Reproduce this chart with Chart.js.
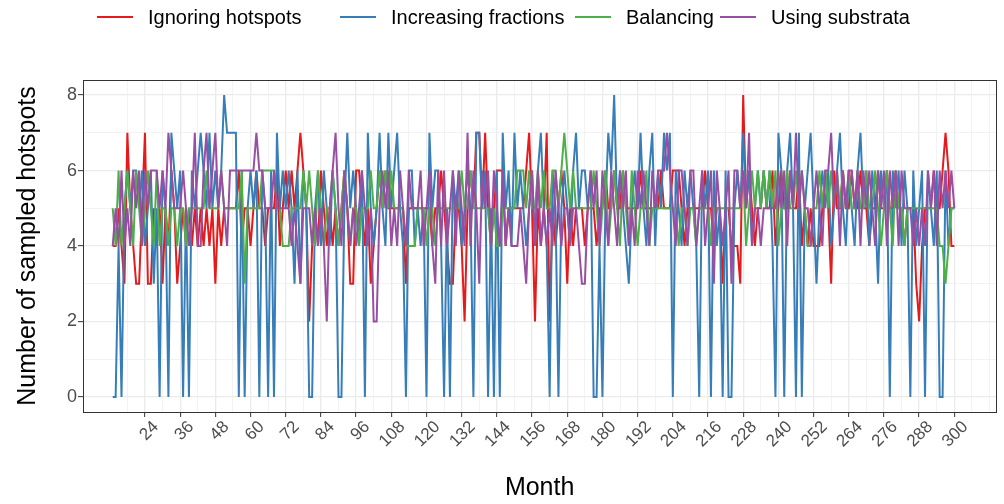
<!DOCTYPE html>
<html>
<head>
<meta charset="utf-8">
<script src="https://cdn.jsdelivr.net/npm/chart.js@4/dist/chart.umd.min.js"></script>
<style>
  html, body { margin: 0; padding: 0; background: #fff; }
  #wrap { width: 1004px; height: 504px; position: relative; }
</style>
</head>
<body>
<div id="wrap"><canvas id="chart"></canvas></div>
<script>
// months 13..300, one value per month
const firstMonth = 13;
const lastMonth = 300;
const months = [];
for (let m = firstMonth; m <= lastMonth; m++) months.push(m);

const monthTicks = [24, 36, 48, 60, 72, 84, 96, 108, 120, 132, 144, 156, 168, 180, 192, 204, 216, 228, 240, 252, 264, 276, 288, 300];
const countTicks = [0, 2, 4, 6, 8];

const seriesNames = ["Ignoring hotspots", "Increasing fractions", "Balancing", "Using substrata"];
const seriesColors = ["#E41A1C", "#377EB8", "#4DAF4A", "#984EA3"];

const ignoring = [
  4,4,5,4,3,7,5,4,3,3,5,7,
  3,3,5,4,5,3,5,4,6,5,3,4,
  5,4,5,4,5,4,5,4,5,4,5,3,
  5,4,5,5,5,5,5,6,4,5,5,4,
  5,6,5,5,4,5,5,5,6,4,5,6,
  5,6,5,6,7,6,5,2,4,5,4,6,
  5,4,5,4,5,4,5,6,5,3,3,6,
  6,5,4,5,3,4,5,6,5,6,5,5,
  5,5,5,5,3,5,5,5,5,5,5,5,
  5,4,5,5,6,5,4,3,3,5,5,4,
  2,5,6,5,7,7,5,7,5,4,5,6,
  6,6,4,5,5,5,5,5,5,6,7,5,
  2,5,4,5,7,2,5,4,5,6,5,3,
  5,4,5,5,5,4,5,5,5,4,5,5,
  6,5,5,6,5,5,6,5,5,5,5,5,
  6,5,5,5,5,5,5,6,5,5,5,6,
  6,6,5,4,5,5,5,5,5,5,6,5,
  5,4,5,5,3,5,5,4,4,4,3,8,
  5,6,5,4,5,5,6,5,5,6,4,5,
  6,5,5,6,5,5,6,4,5,4,5,4,
  4,4,5,6,5,3,6,5,5,6,5,5,
  6,5,5,6,5,5,4,5,5,6,5,5,
  6,5,5,6,5,5,4,5,5,5,3,2,
  4,5,5,5,6,5,5,6,7,6,4,4
];

const increasing = [
  0,0,4,0,5,6,5,6,6,5,6,4,
  5,6,3,5,0,6,5,0,7,6,5,6,
  0,5,0,6,5,6,7,6,5,7,5,6,
  5,6,8,7,7,7,7,0,6,0,5,6,
  5,6,0,6,5,0,6,0,7,5,6,5,
  6,5,3,6,3,6,5,0,0,5,6,4,
  6,5,4,6,5,0,0,5,7,5,6,5,
  4,6,0,7,5,4,5,7,5,4,7,5,
  6,7,5,4,0,6,6,4,5,4,5,0,
  7,5,6,6,4,0,5,0,6,5,6,4,
  5,6,5,0,7,7,5,6,0,5,0,6,
  0,7,5,6,4,7,5,6,5,4,5,6,
  4,6,7,5,4,0,6,5,0,5,6,5,
  4,6,7,5,6,6,5,6,0,0,4,0,
  5,7,6,8,5,6,5,4,3,5,6,5,
  7,5,4,6,7,4,6,5,7,6,7,0,
  6,5,4,6,5,6,5,4,0,6,5,6,
  0,6,4,5,0,6,0,0,5,6,5,7,
  5,6,4,5,6,5,6,5,6,4,0,7,
  6,0,6,7,5,0,7,0,5,6,7,5,
  3,5,6,5,6,4,5,6,7,5,4,6,
  5,4,6,7,5,6,4,6,5,3,6,5,
  6,0,6,5,6,4,6,5,0,6,4,5,
  6,0,6,5,4,6,0,0,6,4,5,5
];

const balancing = [
  5,4,6,4,5,6,5,4,6,5,4,5,
  6,5,4,6,4,5,5,4,5,5,4,5,
  5,4,5,5,5,5,5,5,6,5,5,5,
  5,6,5,5,5,5,5,5,6,3,5,5,
  5,5,5,6,6,6,6,6,5,5,4,4,
  4,5,5,5,5,6,5,6,5,4,6,5,
  4,5,5,6,5,4,5,6,5,4,5,5,
  4,5,5,5,6,5,5,6,5,6,5,6,
  5,5,5,5,4,4,4,4,5,5,5,4,
  5,5,4,5,5,5,5,5,5,5,5,6,
  5,5,6,5,5,5,5,5,5,4,5,4,
  4,5,5,5,5,5,6,6,6,5,6,5,
  5,6,5,6,5,5,6,6,5,6,7,6,
  5,6,5,5,5,5,5,5,6,5,4,5,
  6,4,5,6,5,4,6,5,4,6,5,4,
  5,5,6,4,5,5,5,5,5,5,5,5,
  5,4,5,5,4,5,5,4,5,5,5,5,
  4,5,5,5,5,5,5,5,5,5,5,6,
  4,5,6,5,6,5,6,5,6,5,6,4,
  5,5,6,5,5,6,5,6,5,4,4,5,
  5,6,5,6,5,6,5,6,5,6,5,6,
  5,5,6,5,5,6,5,5,6,5,4,5,
  6,5,4,6,5,5,4,5,5,5,5,5,
  5,5,5,5,5,5,4,4,3,4,5,5
];

const substrata = [
  4,5,4,6,4,5,4,6,5,6,4,6,
  5,6,6,6,5,6,5,7,6,5,5,5,
  6,5,4,5,7,4,4,6,7,5,6,7,
  5,6,5,4,6,6,6,6,6,6,6,6,
  6,7,6,6,5,5,5,6,5,5,5,5,
  5,4,5,4,3,5,5,5,4,5,4,5,
  4,2,5,6,7,5,4,6,5,4,5,4,
  5,6,5,4,5,2,2,5,6,5,6,4,
  5,4,6,5,4,6,5,5,5,6,4,5,
  6,4,3,6,4,6,4,5,6,4,6,5,
  4,7,4,6,5,3,6,5,6,4,6,5,
  4,6,4,5,4,4,4,5,4,3,5,6,
  4,6,4,5,4,5,4,6,5,4,5,5,
  4,5,5,4,3,3,5,6,5,6,4,6,
  5,4,6,5,4,6,5,6,4,5,4,6,
  5,6,5,4,6,5,6,6,6,7,6,5,
  4,6,6,5,4,6,6,4,5,6,4,5,
  6,3,6,5,4,5,6,3,6,6,5,6,
  5,7,4,5,5,4,5,5,5,5,5,6,
  5,6,4,6,5,7,5,6,5,5,4,5,
  6,5,4,6,6,7,5,6,4,6,5,6,
  6,5,6,4,6,5,6,5,4,6,5,6,
  4,6,5,6,4,6,5,5,5,4,5,4,
  5,4,6,5,6,4,6,5,6,5,6,5
];

const allSeries = [ignoring, increasing, balancing, substrata];

const fontFamily = '"Liberation Sans", Arial, sans-serif';

// plot panel border (theme_bw) and legend strip on top
const panelBorder = {
  id: "panelBorder",
  afterDatasetsDraw(chart) {
    const { ctx, chartArea: a } = chart;
    ctx.save();
    ctx.strokeStyle = "#333333";
    ctx.lineWidth = 1;
    ctx.strokeRect(Math.round(a.left) + 0.5, Math.round(a.top) + 0.5,
      Math.round(a.right - a.left), Math.round(a.bottom - a.top));
    ctx.restore();
  }
};

const legendStarts = [97, 340, 575, 720];

const topLegend = {
  id: "topLegend",
  afterDraw(chart) {
    const ctx = chart.ctx;
    ctx.save();
    ctx.font = "20px " + fontFamily;
    ctx.textBaseline = "middle";
    ctx.fillStyle = "#000";
    seriesNames.forEach((name, i) => {
      const x = legendStarts[i];
      ctx.strokeStyle = seriesColors[i];
      ctx.lineWidth = 2;
      ctx.beginPath();
      ctx.moveTo(x, 17);
      ctx.lineTo(x + 36, 17);
      ctx.stroke();
      ctx.fillText(name, x + 51, 18);
    });
    ctx.restore();
  }
};

const drawOrder = [4, 3, 2, 1];

const datasets = allSeries.map((vals, i) => ({
  label: seriesNames[i],
  data: vals.map((v, j) => ({ x: months[j], y: v })),
  borderColor: seriesColors[i],
  backgroundColor: seriesColors[i],
  borderWidth: 2,
  pointRadius: 0,
  tension: 0,
  order: drawOrder[i]
}));

new Chart(document.getElementById("chart"), {
  type: "line",
  data: { datasets: datasets },
  plugins: [panelBorder, topLegend],
  options: {
    responsive: true,
    maintainAspectRatio: false,
    animation: false,
    layout: { padding: { top: 80, right: 7, left: 0, bottom: 0 } },
    plugins: {
      legend: { display: false },
      tooltip: { enabled: false }
    },
    scales: {
      x: {
        type: "linear",
        min: 2.87,
        max: 314.3,
        afterBuildTicks: (scale) => {
          const t = [];
          for (let v = 18; v <= 312; v += 6) t.push({ value: v });
          scale.ticks = t;
        },
        afterFit: (scale) => { scale.height = 92; },
        ticks: {
          autoSkip: false,
          maxRotation: 45,
          minRotation: 45,
          padding: 0,
          labelOffset: 11,
          color: "#4d4d4d",
          font: { size: 17, family: fontFamily },
          callback: (v) => monthTicks.includes(v) ? String(v) : ""
        },
        grid: {
          color: "#ebebeb",
          lineWidth: (c) => monthTicks.includes(c.tick.value) ? 1.3 : 0.6,
          tickColor: (c) => monthTicks.includes(c.tick.value) ? "#333333" : "rgba(0,0,0,0)",
          tickWidth: 1,
          tickLength: 5
        },
        border: { display: false },
        title: {
          display: true,
          text: "Month",
          color: "#000",
          font: { size: 25, family: fontFamily },
          padding: { top: 0, bottom: 1 }
        }
      },
      y: {
        min: -0.4,
        max: 8.4,
        afterBuildTicks: (scale) => {
          const t = [];
          for (let v = 0; v <= 8; v += 1) t.push({ value: v });
          scale.ticks = t;
        },
        afterFit: (scale) => { scale.width = 83; },
        ticks: {
          padding: 1,
          color: "#4d4d4d",
          font: { size: 18, family: fontFamily },
          callback: (v) => countTicks.includes(v) ? String(v) : ""
        },
        grid: {
          color: "#ebebeb",
          lineWidth: (c) => countTicks.includes(c.tick.value) ? 1.3 : 0.6,
          tickColor: (c) => countTicks.includes(c.tick.value) ? "#333333" : "rgba(0,0,0,0)",
          tickWidth: 1,
          tickLength: 5
        },
        border: { display: false },
        title: {
          display: true,
          text: "Number of sampled hotspots",
          color: "#000",
          font: { size: 25, family: fontFamily },
          padding: { top: 13, bottom: 0 }
        }
      }
    }
  }
});
</script>
</body>
</html>
